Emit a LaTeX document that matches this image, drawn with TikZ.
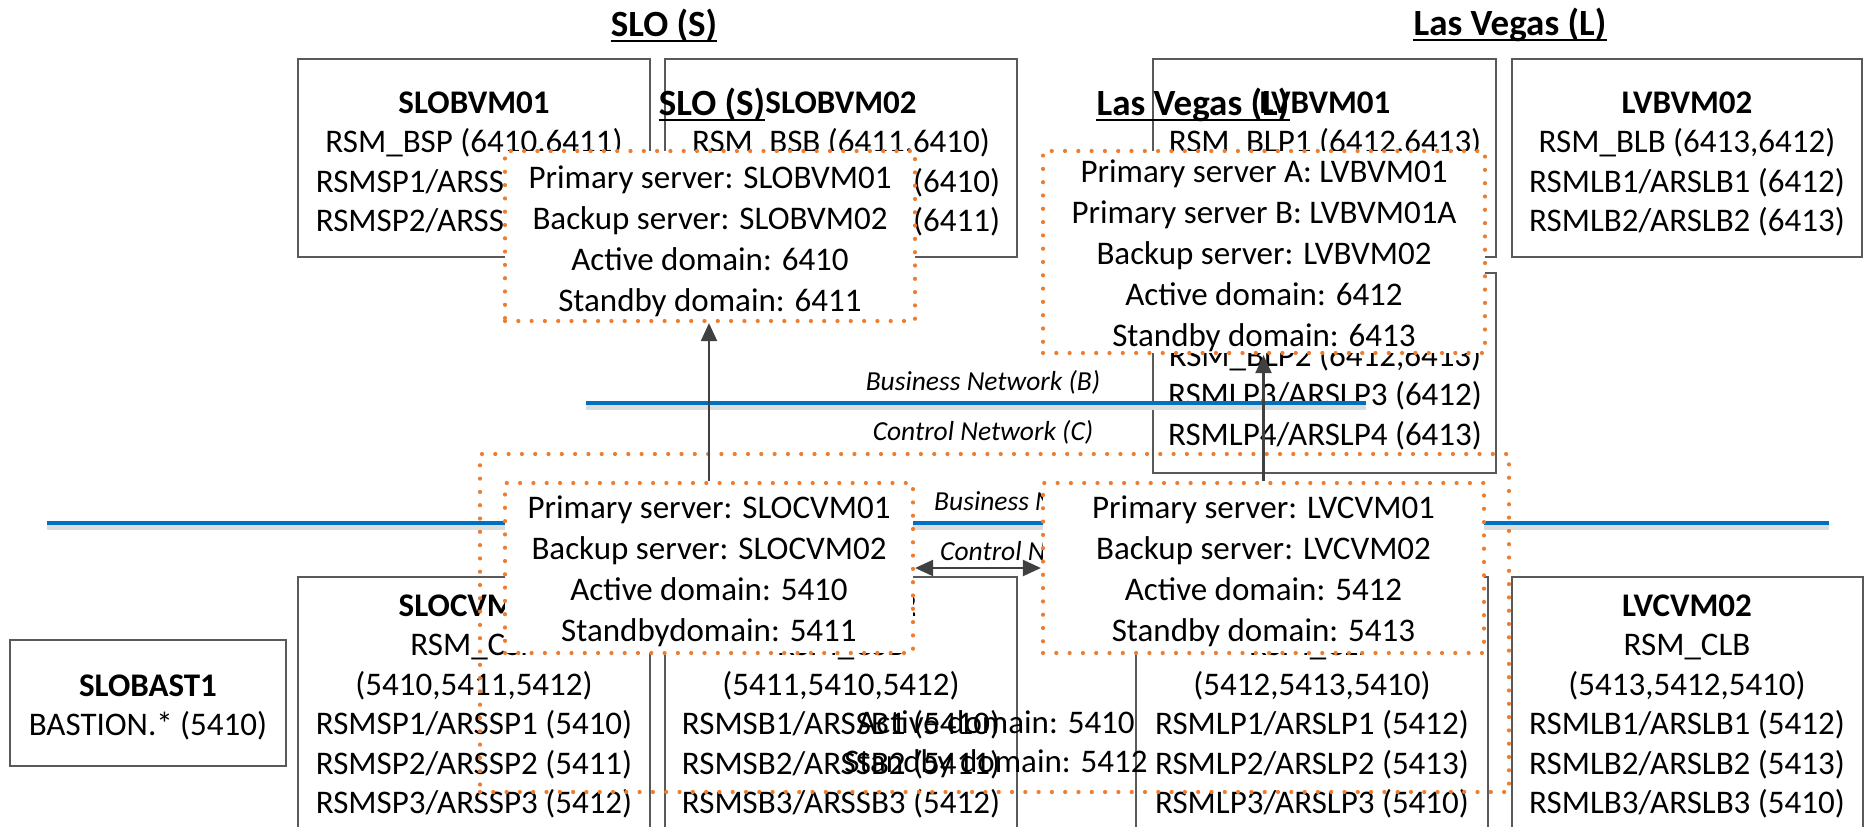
\documentclass[tikz,border=0pt]{standalone}
\usepackage{fontspec}
\setmainfont{Carlito}
\usetikzlibrary{arrows.meta}
\definecolor{dotorange}{HTML}{ED7D31}
\definecolor{netblue}{HTML}{0070C0}
\definecolor{boxgray}{HTML}{595959}
\definecolor{arrowgray}{HTML}{404040}
\definecolor{netshade}{HTML}{DCDCDC}

% one text node per line: prefix, centre x, first baseline, list of lines
\newcommand\vmlines[4]{%
  \foreach \ln [count=\k] in {#4} {
    \node[vmtext, anchor=base] (#1-\k) at ({#2},{#3+39.5*(\k-1)}) {\ln};
  }}

\begin{document}
\begin{tikzpicture}[x=1pt, y=-1pt,
  vmbox/.style={draw=boxgray, line width=2pt, inner sep=0pt},
  vmtext/.style={font=\fontsize{33}{39.5}\selectfont, inner sep=0pt, text=black},
  sitetitle/.style={font=\bfseries\fontsize{37}{44}\selectfont, inner sep=0pt, anchor=base},
  uline/.style={line width=2.5pt, black},
  dombox/.style={draw=dotorange, line width=4.2pt, line cap=round,
    dash pattern=on 0pt off 13.3pt, inner sep=0pt},
  domfill/.style={dombox, fill=white},
  domtext/.style={inner sep=0pt, align=center, font=\fontsize{33}{41}\selectfont},
  netlabel/.style={font=\itshape\fontsize{27.5}{33}\selectfont, inner sep=0pt},
  netline/.style={draw=netblue, line width=4pt},
  netshadow/.style={draw=netshade, line width=5pt},
  uplink/.style={draw=arrowgray, line width=2.2pt, -{Triangle[length=18pt,width=16pt]}},
  duplex/.style={draw=arrowgray, line width=2.2pt,
    {Triangle[length=18pt,width=16pt]}-{Triangle[length=18pt,width=16pt]}},
]
\useasboundingbox (0,0) rectangle (1864,827);
\clip (0,0) rectangle (1864,827);

% ---- business-network VMs
\node[vmbox, minimum width=352pt, minimum height=198pt] (slobvm01) at (474,158) {};
\node[vmbox, minimum width=352pt, minimum height=198pt] (slobvm02) at (841,158) {};
\node[vmbox, minimum width=343pt, minimum height=198pt] (lvbvm01) at (1324.5,158) {};
\node[vmbox, minimum width=343pt, minimum height=200pt] (lvbvm01a) at (1324.5,373) {};
\node[vmbox, minimum width=350pt, minimum height=198pt] (lvbvm02) at (1687,158) {};

\vmlines{tslobvm01}{474}{113}{{\textbf{SLOBVM01}}, {RSM\_BSP (6410.6411)}, {RSMSP1/ARSSP1 (6410)}, {RSMSP2/ARSSP2 (6411)}}
\vmlines{tslobvm02}{841}{113}{{\textbf{SLOBVM02}}, {RSM\_BSB (6411,6410)}, {RSMSB1/ARSSB1 (6410)}, {RSMSB2/ARSSB2 (6411)}}
\vmlines{tlvbvm01}{1325}{113}{{\textbf{LVBVM01}}, {RSM\_BLP1 (6412.6413)}}
\vmlines{tlvbvm01a}{1325}{366}{{RSM\_BLP2 (6412,6413)}, {RSMLP3/ARSLP3 (6412)}, {RSMLP4/ARSLP4 (6413)}}
\vmlines{tlvbvm02}{1687}{113}{{\textbf{LVBVM02}}, {RSM\_BLB (6413,6412)}, {RSMLB1/ARSLB1 (6412)}, {RSMLB2/ARSLB2 (6413)}}

% ---- control-network VMs
\node[vmbox, minimum width=276pt, minimum height=126pt] (slobast1) at (148,703) {};
\node[vmbox, minimum width=352pt, minimum height=283pt] (slocvm01) at (474,718.5) {};
\node[vmbox, minimum width=352pt, minimum height=283pt] (slocvm02) at (841,718.5) {};
\node[vmbox, minimum width=352pt, minimum height=283pt] (lvcvm01) at (1312,718.5) {};
\node[vmbox, minimum width=351pt, minimum height=283pt] (lvcvm02) at (1687.5,718.5) {};

\vmlines{tslobast1}{148}{696}{{\textbf{SLOBAST1}}, {BASTION.* (5410)}}
\vmlines{tslocvm01}{474}{616}{{\textbf{SLOCVM01}}, {RSM\_CSP}, {(5410,5411,5412)}, {RSMSP1/ARSSP1 (5410)}, {RSMSP2/ARSSP2 (5411)}, {RSMSP3/ARSSP3 (5412)}}
\vmlines{tslocvm02}{841}{616}{{\textbf{SLOCVM02}}, {RSM\_CSB}, {(5411,5410,5412)}, {RSMSB1/ARSSB1 (5410)}, {RSMSB2/ARSSB2 (5411)}, {RSMSB3/ARSSB3 (5412)}}
\vmlines{tlvcvm01}{1312}{616}{{\textbf{LVCVM01}}, {RSM\_CLP}, {(5412,5413,5410)}, {RSMLP1/ARSLP1 (5412)}, {RSMLP2/ARSLP2 (5413)}, {RSMLP3/ARSLP3 (5410)}}
\vmlines{tlvcvm02}{1687}{616}{{\textbf{LVCVM02}}, {RSM\_CLB}, {(5413,5412,5410)}, {RSMLB1/ARSLB1 (5412)}, {RSMLB2/ARSLB2 (5413)}, {RSMLB3/ARSLB3 (5410)}}

% ---- networks
\coordinate (bnet-w) at (586,403);
\coordinate (bnet-e) at (1366,403);
\coordinate (cnet-w) at (47,523);
\coordinate (cnet-e) at (1829,523);
\draw[netshadow] ([yshift=-4pt]bnet-w) -- ([yshift=-4pt]bnet-e);
\draw[netline] (bnet-w) -- (bnet-e);
\draw[netshadow] ([yshift=-4pt]cnet-w) -- ([yshift=-4pt]cnet-e);
\draw[netline] (cnet-w) -- (cnet-e);

\node[netlabel] (bnet-label) at (983,382) {Business Network (B)};
\node[netlabel] (cnet-label) at (983,432) {Control Network (C)};
\node[netlabel, anchor=west] (bnet-label2) at (934,502) {Business Network (B)};
\node[netlabel, anchor=west] (cnet-label2) at (940,552) {Control Network (C)};

% ---- control domain zone
\node[dombox, minimum width=1029pt, minimum height=338pt] (ctrlzone) at (994.5,623) {};
\node[vmtext, align=center] (ctrlzone-dom) at (996,744) {Active domain: 5410\\Standby domain: 5412};

% ---- failover pairs
\node[domfill, minimum width=410pt, minimum height=170pt] (sloB) at (710,236) {};
\node[domtext] (sloB-txt) at ([yshift=-5pt]sloB.center)
  {Primary server: SLOBVM01\\Backup server: SLOBVM02\\Active domain: 6410\\Standby domain: 6411};
\node[domfill, minimum width=442pt, minimum height=202pt] (lvB) at (1264,252) {};
\node[domtext] (lvB-txt) at ([yshift=-4pt]lvB.center)
  {Primary server A: LVBVM01\\Primary server B: LVBVM01A\\Backup server: LVBVM02\\Active domain: 6412\\Standby domain: 6413};
\node[domfill, minimum width=408pt, minimum height=170pt] (sloC) at (709,568) {};
\node[domtext] (sloC-txt) at ([yshift=-3pt]sloC.center)
  {Primary server: SLOCVM01\\Backup server: SLOCVM02\\Active domain: 5410\\Standbydomain: 5411};
\node[domfill, minimum width=441pt, minimum height=170pt] (lvC) at (1263.5,568) {};
\node[domtext] (lvC-txt) at ([yshift=-3pt]lvC.center)
  {Primary server: LVCVM01\\Backup server: LVCVM02\\Active domain: 5412\\Standby domain: 5413};

% ---- links
\draw[uplink] (sloC.north) -- (sloC.north |- sloB.south);
\draw[uplink] (lvC.north) -- (lvC.north |- lvB.south);
\draw[duplex] (sloC.east) -- (lvC.west);

% ---- site titles
\node[sitetitle] (slo-head) at (664,36) {SLO (S)};
\node[sitetitle] (lv-head) at (1510,35) {Las Vegas (L)};
\node[sitetitle] (slo-head2) at (712,115) {SLO (S)};
\node[sitetitle] (lv-head2) at (1193,115) {Las Vegas (L)};
\foreach \h in {slo-head, lv-head, slo-head2, lv-head2}
  \draw[uline] ([yshift=-5pt]\h.base west) -- ([yshift=-5pt]\h.base east);
\end{tikzpicture}
\end{document}
